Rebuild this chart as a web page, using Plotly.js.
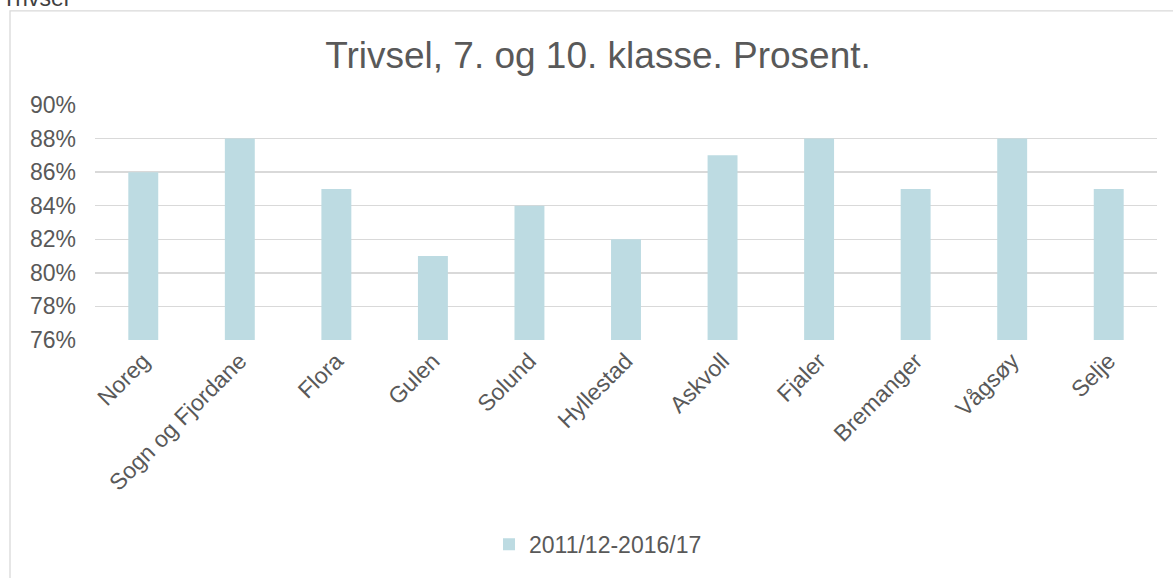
<!DOCTYPE html>
<html><head><meta charset="utf-8">
<script src="https://cdn.plot.ly/plotly-3.0.1.min.js"></script>
<style>html,body{margin:0;padding:0;background:#fff;}</style>
</head><body>
<div id="chart" style="width:1173px;height:578px;"></div>
<script>
const categories = ["Noreg","Sogn og Fjordane","Flora","Gulen","Solund","Hyllestad","Askvoll","Fjaler","Bremanger","Vågsøy","Selje"];
const values = [0.86,0.88,0.85,0.81,0.84,0.82,0.87,0.88,0.85,0.88,0.85];
const seriesName = "2011/12-2016/17";
const yTicks = [0.76,0.78,0.80,0.82,0.84,0.86,0.88,0.90];

const grey = "#595959";
const font = "Liberation Sans, Arial, sans-serif";
const trace = {
  type: "bar", x: categories, y: values, name: seriesName,
  marker: {color: "#BDDBE2"}, showlegend: true
};
const layout = {
  width: 1173, height: 578,
  margin: {l: 95, r: 16, t: 105, b: 236},
  paper_bgcolor: "#fff", plot_bgcolor: "#fff",
  font: {family: font, color: grey, size: 23},
  title: {text: "Trivsel, 7. og 10. klasse. Prosent.", font: {size: 37, color: grey, family: font},
          x: 598/1173, xref: "container", xanchor: "center", y: 1 - 55/578, yref: "container", yanchor: "middle"},
  bargap: 0.69,
  xaxis: {tickangle: -45, tickfont: {size: 23, color: grey}, showline: false, ticks: "", showgrid: false,
          automargin: false, ticklabelstandoff: 2},
  yaxis: {range: [0.76, 0.90], tickvals: yTicks, tickformat: ".0%", tickfont: {size: 23, color: grey},
          gridcolor: "#d9d9d9", gridwidth: 1.3, zeroline: false, showline: false, ticks: "", ticklen: 0,
          automargin: false, ticklabelstandoff: 18},
  showlegend: true,
  legend: {orientation: "h", x: (598-95)/1062, xanchor: "center", y: (342-548)/237, yanchor: "middle",
           font: {size: 23, color: grey}, itemwidth: 30},
  shapes: [{type: "rect", xref: "paper", yref: "paper", x0: (10-95)/1062, x1: (1200-95)/1062,
            y0: (342-600)/237, y1: (342-10)/237, line: {color: "#d9d9d9", width: 1.3}, layer: "below"}],
  annotations: [{text: "Trivsel", xref: "paper", yref: "paper", x: (0-95)/1062, xanchor: "left",
                 y: (342-12)/237, yanchor: "bottom", showarrow: false, font: {size: 23, color: "#404040", family: font}}]
};
Plotly.newPlot("chart", [trace], layout, {displayModeBar: false, staticPlot: true});
</script>
</body></html>
